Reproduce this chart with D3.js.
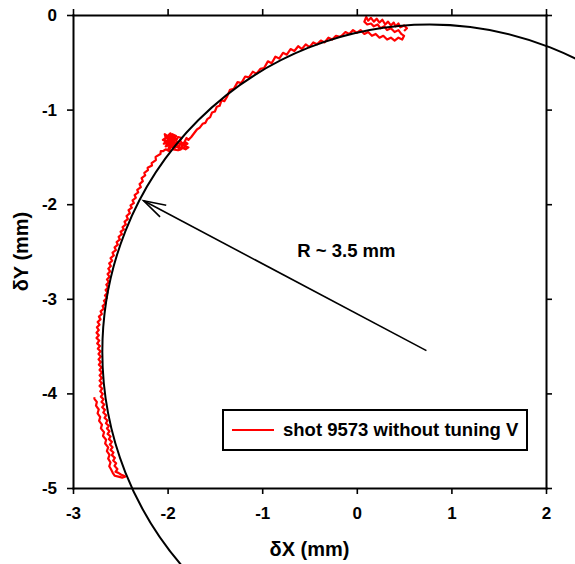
<!DOCTYPE html>
<html>
<head>
<meta charset="utf-8">
<script src="https://cdn.jsdelivr.net/npm/d3@7"></script>
<style>
  body { margin: 0; background: #fff; }
  text { font-family: 'Liberation Sans', Arial, sans-serif; font-weight: bold; fill: #000; }
  .axis path, .axis line { stroke: #000; }
  .axis .domain { stroke-width: 2; stroke-linecap: square; }
  .axis .tick line { stroke-width: 1.6; }
  .axis text { font-size: 17px; }
</style>
</head>
<body>
<script>
// axis ticks
const xTicks = [-3, -2, -1, 0, 1, 2]
const yTicks = [-5, -4, -3, -2, -1, 0]

// fitted circle and the radius arrow (mm)
const fitCenter = [0.77, -3.56]
const fitRadius = 3.46
const arrowTail = [0.736, -3.548]
const arrowTip = [-2.253, -1.964]
const radiusText = 'R ~ 3.5 mm'
const radiusTextAt = [-0.11, -2.555]
const legendText = 'shot 9573 without tuning V'

// beam trace of shot 9573 in pieces (dX, dY in mm)
const topCluster = [
  [0.50,-0.17],[0.53,-0.14],[0.50,-0.11],[0.46,-0.13],[0.44,-0.09],[0.41,-0.12],[0.39,-0.08],
  [0.36,-0.11],[0.33,-0.07],[0.30,-0.10],[0.27,-0.05],[0.24,-0.08],[0.21,-0.04],[0.18,-0.07],
  [0.15,-0.03],[0.12,-0.06],[0.10,-0.02],[0.08,-0.07],[0.11,-0.10],[0.15,-0.09],[0.18,-0.12],
  [0.22,-0.10],[0.25,-0.14],[0.29,-0.12],[0.32,-0.16],[0.36,-0.14],[0.40,-0.18],[0.44,-0.16],
  [0.47,-0.20],[0.50,-0.22],[0.48,-0.26],[0.44,-0.24],[0.40,-0.27],[0.36,-0.24],[0.32,-0.26],
  [0.28,-0.22],[0.24,-0.24],[0.20,-0.20],[0.16,-0.22],[0.12,-0.18],[0.08,-0.20],[0.04,-0.16],
  [0.00,-0.19],[-0.04,-0.16],[-0.08,-0.20],[-0.12,-0.18],[-0.16,-0.22],[-0.18,-0.23]
]
const upperArc = [
  [-0.22,-0.22],[-0.26,-0.26],[-0.30,-0.24],[-0.34,-0.29],[-0.38,-0.27],[-0.42,-0.31],[-0.46,-0.29],
  [-0.50,-0.34],[-0.54,-0.31],[-0.58,-0.36],[-0.62,-0.33],[-0.66,-0.38],[-0.70,-0.36],[-0.74,-0.42],
  [-0.78,-0.40],[-0.82,-0.46],[-0.86,-0.44],[-0.90,-0.51],[-0.94,-0.49],[-0.98,-0.56],[-1.02,-0.57],
  [-1.06,-0.62],[-1.10,-0.60],[-1.14,-0.66],[-1.18,-0.65],[-1.22,-0.72],[-1.26,-0.71],[-1.30,-0.78],
  [-1.34,-0.79],[-1.37,-0.86],[-1.40,-0.91],[-1.43,-0.90],[-1.45,-0.96],[-1.48,-0.97],[-1.50,-1.02],
  [-1.53,-1.03],[-1.55,-1.08],[-1.58,-1.10],[-1.60,-1.14],[-1.63,-1.15],[-1.66,-1.19],[-1.69,-1.21],
  [-1.72,-1.25]
]
const blob = [
  [-1.75,-1.29],[-1.78,-1.32],[-1.80,-1.30],[-1.82,-1.34],[-1.79,-1.36],[-1.83,-1.38],[-1.78,-1.40],
  [-1.81,-1.42],[-1.85,-1.40],[-1.84,-1.36],[-1.87,-1.33],[-1.85,-1.30],[-1.89,-1.29],[-1.91,-1.33],
  [-1.93,-1.27],[-1.96,-1.30],[-1.97,-1.25],[-2.00,-1.28],[-2.03,-1.26],[-2.02,-1.30],[-2.05,-1.32],
  [-2.01,-1.33],[-2.04,-1.36],[-1.99,-1.35],[-2.02,-1.39],[-1.97,-1.37],[-1.99,-1.41],[-1.95,-1.39],
  [-1.93,-1.35],[-1.95,-1.32],[-1.98,-1.34],[-1.97,-1.29],[-2.00,-1.31],[-1.96,-1.33],[-1.92,-1.31],
  [-1.94,-1.37],[-1.90,-1.36],[-1.92,-1.40],[-1.88,-1.38],[-1.86,-1.42],[-1.89,-1.43],[-1.94,-1.42],
  [-1.96,-1.27],[-1.99,-1.30],[-2.01,-1.28],[-1.98,-1.32],[-2.03,-1.34],[-1.97,-1.36],[-2.01,-1.37],
  [-1.96,-1.40],[-1.93,-1.38],[-1.90,-1.34],[-1.86,-1.37],[-1.83,-1.35],[-1.81,-1.39],[-1.84,-1.41],
  [-1.88,-1.41],[-1.91,-1.38],[-1.95,-1.36],[-1.94,-1.30],[-1.91,-1.28],[-1.95,-1.26],
  [-1.98,-1.44],[-2.02,-1.42],[-2.05,-1.44]
]
const lowerArc = [
  [-2.072,-1.44],[-2.076,-1.47],[-2.127,-1.50],[-2.124,-1.533],[-2.169,-1.566],[-2.165,-1.59],
  [-2.211,-1.615],[-2.208,-1.64],[-2.246,-1.668],[-2.237,-1.696],[-2.275,-1.724],[-2.262,-1.756],
  [-2.296,-1.788],[-2.283,-1.82],[-2.321,-1.848],[-2.311,-1.876],[-2.349,-1.904],[-2.336,-1.932],
  [-2.370,-1.96],[-2.357,-1.988],[-2.392,-2.013],[-2.378,-2.037],[-2.413,-2.062],[-2.399,-2.094],
  [-2.434,-2.125],[-2.420,-2.157],[-2.455,-2.185],[-2.441,-2.214],[-2.476,-2.242],[-2.462,-2.267],
  [-2.497,-2.291],[-2.483,-2.316],[-2.518,-2.344],[-2.504,-2.372],[-2.539,-2.40],[-2.526,-2.428],
  [-2.560,-2.457],[-2.547,-2.485],[-2.582,-2.513],[-2.568,-2.542],[-2.603,-2.57],[-2.586,-2.598],
  [-2.617,-2.626],[-2.600,-2.654],[-2.627,-2.682],[-2.607,-2.71],[-2.634,-2.738],[-2.614,-2.766],
  [-2.641,-2.795],[-2.621,-2.823],[-2.648,-2.851],[-2.628,-2.879],[-2.655,-2.907],[-2.635,-2.935],
  [-2.662,-2.964],[-2.642,-2.992],[-2.673,-3.02],[-2.656,-3.048],[-2.687,-3.076],[-2.674,-3.104],
  [-2.708,-3.133],[-2.695,-3.161],[-2.726,-3.189],[-2.709,-3.217],[-2.740,-3.245],[-2.720,-3.273],
  [-2.747,-3.302],[-2.727,-3.33],[-2.751,-3.358],[-2.727,-3.386],[-2.751,-3.414],[-2.723,-3.442],
  [-2.744,-3.471],[-2.716,-3.499],[-2.737,-3.527],[-2.709,-3.555],[-2.730,-3.583],[-2.706,-3.611],
  [-2.730,-3.64],[-2.706,-3.668],[-2.726,-3.696],[-2.699,-3.724],[-2.719,-3.752],[-2.695,-3.78],
  [-2.719,-3.809],[-2.695,-3.837],[-2.719,-3.865],[-2.695,-3.893],[-2.719,-3.921],[-2.692,-3.949],
  [-2.712,-3.978],[-2.685,-4.006],[-2.705,-4.034],[-2.678,-4.062],[-2.698,-4.09],[-2.670,-4.118],
  [-2.691,-4.146],[-2.663,-4.174],[-2.680,-4.202],[-2.649,-4.231],[-2.666,-4.259],[-2.635,-4.287],
  [-2.652,-4.315],[-2.621,-4.343],[-2.641,-4.371],[-2.614,-4.40],[-2.634,-4.428],[-2.603,-4.456],
  [-2.620,-4.484],[-2.589,-4.512],[-2.610,-4.54],[-2.582,-4.569],[-2.603,-4.597],[-2.572,-4.625],
  [-2.589,-4.653],[-2.558,-4.681],[-2.575,-4.709],[-2.544,-4.738],[-2.561,-4.766],[-2.531,-4.80],
  [-2.550,-4.829]
]
const hook = [
  [-2.52,-4.84],[-2.49,-4.86],[-2.46,-4.87],[-2.45,-4.88],[-2.48,-4.89],[-2.52,-4.88],[-2.56,-4.87],
  [-2.58,-4.84]
]
const returnStrand = [
  [-2.600,-4.80],[-2.617,-4.77],[-2.603,-4.73],[-2.628,-4.69],[-2.614,-4.65],[-2.642,-4.61],
  [-2.628,-4.57],[-2.660,-4.53],[-2.650,-4.49],[-2.683,-4.45],[-2.672,-4.41],[-2.705,-4.37],
  [-2.694,-4.33],[-2.724,-4.29],[-2.712,-4.25],[-2.740,-4.21],[-2.728,-4.17],[-2.757,-4.13],
  [-2.748,-4.09],[-2.772,-4.06],[-2.776,-4.04]
]

const shotTrace = [].concat(topCluster, upperArc, blob, lowerArc, hook, returnStrand)

// svg and plot area
const margin = {top: 15, right: 29, bottom: 76, left: 73},
width = 575 - margin.left - margin.right,
height = 564 - margin.top - margin.bottom

const svg = d3
.select('body')
.append('svg')
.attr('width', 575)
.attr('height', 564)

const g = svg
.append('g')
.attr('transform', `translate(${margin.left}, ${margin.top})`)

const x = d3.scaleLinear().domain([-3, 2]).range([0, width])
const y = d3.scaleLinear().domain([-5, 0]).range([height, 0])

// plain hyphen and no decimals on tick labels
const tickLabel = d => String(d)

// the trace
const line = d3.line()
.x(d => x(d[0]))
.y(d => y(d[1]))

g
.append('path')
.datum(shotTrace)
.attr('d', line)
.attr('fill', 'none')
.attr('stroke', '#f00')
.attr('stroke-width', 2.2)
.attr('stroke-linejoin', 'round')

// fitted circle, not clipped to the frame
g
.append('ellipse')
.attr('cx', x(fitCenter[0]))
.attr('cy', y(fitCenter[1]))
.attr('rx', x(fitRadius) - x(0))
.attr('ry', y(-fitRadius) - y(0))
.attr('fill', 'none')
.attr('stroke', '#000')
.attr('stroke-width', 2)

// frame axes, ticks pointing out on all four sides
g
.append('g')
.attr('class', 'axis')
.attr('transform', `translate(0, ${height})`)
.call(d3.axisBottom(x).tickValues(xTicks).tickFormat(tickLabel).tickSize(6).tickSizeOuter(0).tickPadding(13))

g
.append('g')
.attr('class', 'axis')
.call(d3.axisLeft(y).tickValues(yTicks).tickFormat(tickLabel).tickSize(6).tickSizeOuter(0).tickPadding(10))

g
.append('g')
.attr('class', 'axis')
.call(d3.axisTop(x).tickValues(xTicks).tickSize(6).tickSizeOuter(0).tickFormat(''))

g
.append('g')
.attr('class', 'axis')
.attr('transform', `translate(${width}, 0)`)
.call(d3.axisRight(y).tickValues(yTicks).tickSize(6).tickSizeOuter(0).tickFormat(''))

// axis titles
svg
.append('text')
.attr('x', margin.left + width / 2)
.attr('y', 556)
.attr('text-anchor', 'middle')
.style('font-size', '20px')
.text('δX (mm)')

svg
.append('text')
.attr('transform', `translate(28, ${margin.top + height / 2}) rotate(-90)`)
.attr('text-anchor', 'middle')
.style('font-size', '20px')
.text('δY (mm)')

// radius arrow with an open head
const tipX = x(arrowTip[0]), tipY = y(arrowTip[1])
const ang = Math.atan2(y(arrowTail[1]) - tipY, x(arrowTail[0]) - tipX)
const barb = 23, spread = 0.29

g
.append('line')
.attr('x1', x(arrowTail[0]))
.attr('y1', y(arrowTail[1]))
.attr('x2', tipX)
.attr('y2', tipY)
.attr('stroke', '#000')
.attr('stroke-width', 1.6)

g
.append('path')
.attr('d', `M${tipX + barb * Math.cos(ang - spread)},${tipY + barb * Math.sin(ang - spread)}L${tipX},${tipY}L${tipX + barb * Math.cos(ang + spread)},${tipY + barb * Math.sin(ang + spread)}`)
.attr('fill', 'none')
.attr('stroke', '#000')
.attr('stroke-width', 1.6)

g
.append('text')
.attr('x', x(radiusTextAt[0]))
.attr('y', y(radiusTextAt[1]))
.attr('text-anchor', 'middle')
.style('font-size', '18.5px')
.text(radiusText)

// legend box
const legend = g
.append('g')
.attr('transform', `translate(${150}, ${395})`)

legend
.append('rect')
.attr('width', 304)
.attr('height', 40)
.attr('fill', '#fff')
.attr('stroke', '#000')
.attr('stroke-width', 2)

legend
.append('line')
.attr('x1', 9)
.attr('x2', 51)
.attr('y1', 20)
.attr('y2', 20)
.attr('stroke', '#f00')
.attr('stroke-width', 2)

legend
.append('text')
.attr('x', 60)
.attr('y', 26)
.style('font-size', '18.5px')
.text(legendText)
</script>
</body>
</html>
